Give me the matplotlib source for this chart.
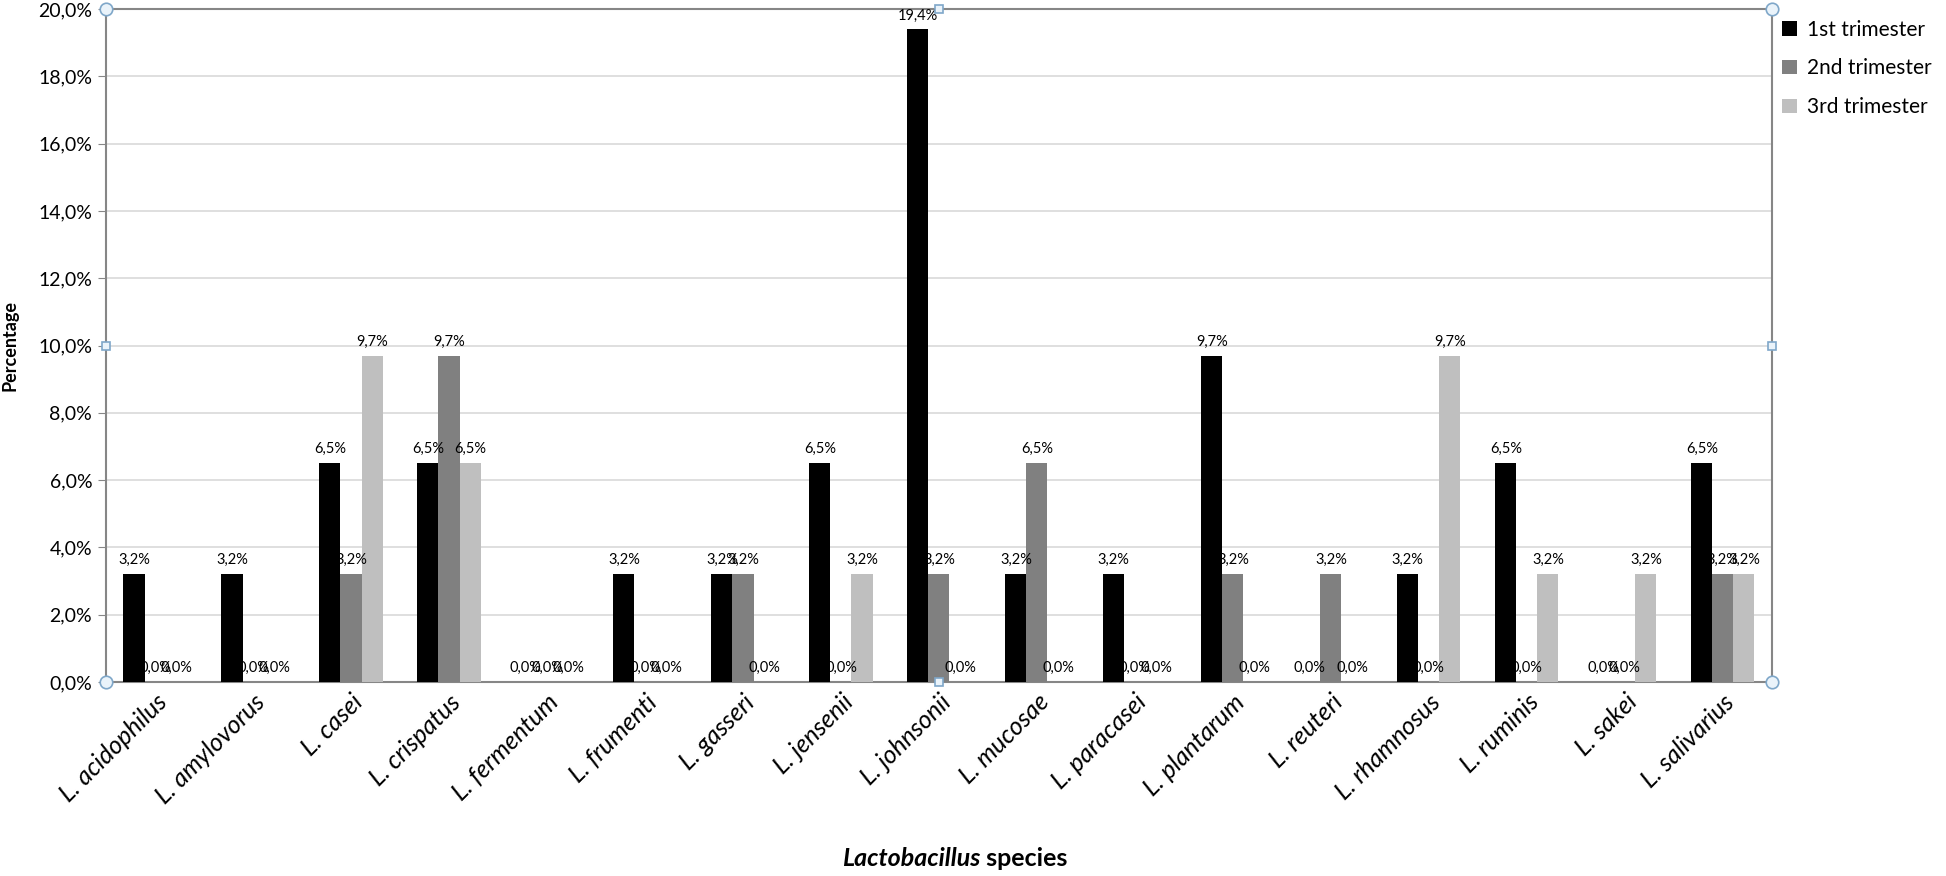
import numpy as np
import matplotlib.pyplot as plt
from matplotlib.ticker import FuncFormatter

plt.rcParams["font.family"] = ["Lato", "DejaVu Sans"]

# ---- Data ----------------------------------------------------------------
species = ["L. acidophilus", "L. amylovorus", "L. casei", "L. crispatus",
           "L. fermentum", "L. frumenti", "L. gasseri", "L. jensenii",
           "L. johnsonii", "L. mucosae", "L. paracasei", "L. plantarum",
           "L. reuteri", "L. rhamnosus", "L. ruminis", "L. sakei",
           "L. salivarius"]
first  = [3.2, 3.2, 6.5, 6.5, 0.0, 3.2, 3.2, 6.5, 19.4, 3.2, 3.2, 9.7, 0.0, 3.2, 6.5, 0.0, 6.5]
second = [0.0, 0.0, 3.2, 9.7, 0.0, 0.0, 3.2, 0.0, 3.2, 6.5, 0.0, 3.2, 3.2, 0.0, 0.0, 0.0, 3.2]
third  = [0.0, 0.0, 9.7, 6.5, 0.0, 0.0, 0.0, 3.2, 0.0, 0.0, 0.0, 0.0, 0.0, 9.7, 3.2, 3.2, 3.2]
series_names = ["1st trimester", "2nd trimester", "3rd trimester"]
colors = ["#000000", "#808080", "#BFBFBF"]

# ---- Figure setup --------------------------------------------------------
fig = plt.figure(figsize=(19.46, 8.76), dpi=100)
ax = fig.add_axes([0.0545, 0.2215, 0.856, 0.768])

x = np.arange(len(species))
width = 0.215
offsets = [-width, 0, width]

for vals, name, col, off in zip([first, second, third], series_names, colors, offsets):
    bars = ax.bar(x + off, vals, width, color=col, label=name, zorder=3)
    for b, v in zip(bars, vals):
        ax.annotate(f"{v:.1f}%".replace(".", ","),
                    (b.get_x() + b.get_width() / 2, v),
                    xytext=(0, 5), textcoords="offset points",
                    ha="center", va="bottom", fontsize=10.5, zorder=4)

# ---- Cosmetics -----------------------------------------------------------
ax.set_xlim(-0.5, len(species) - 0.5)
ax.set_ylim(0, 20)
ax.set_yticks(np.arange(0, 20.1, 2))
ax.yaxis.set_major_formatter(FuncFormatter(lambda v, p: f"{v:.1f}%".replace(".", ",")))
ax.tick_params(axis="y", labelsize=14, length=6, color="#868686", pad=4)
ax.tick_params(axis="x", length=0, pad=6)
ax.set_xticks(x)
ax.set_xticklabels(species, rotation=45, ha="right", rotation_mode="anchor",
                   fontsize=18, style="italic")
ax.grid(True, axis="y", color="#D9D9D9", linewidth=1.2, zorder=0)
for s in ax.spines.values():
    s.set_color("#868686")
    s.set_linewidth(1.5)

ax.set_ylabel("Percentage", fontsize=13, fontweight="bold", labelpad=14)

t1 = fig.text(0.468, 0.02, "Lactobacillus", fontsize=18, fontweight="bold",
              style="italic", ha="center", va="center")
ax.annotate(" species", xy=(1, 0), xycoords=t1, va="bottom", ha="left",
            fontsize=18, fontweight="bold")

leg = ax.legend(loc="upper left", bbox_to_anchor=(1.0, 1.0), frameon=False,
                fontsize=15, handlelength=0.7, handleheight=0.7,
                handletextpad=0.5, labelspacing=0.9, borderaxespad=0.1)

# Excel selection handles on the plot area
hx = [0, 0.5, 1, 0, 1, 0, 0.5, 1]
hy = [0, 0, 0, 0.5, 0.5, 1, 1, 1]
circ = [True, False, True, False, False, True, False, True]
for px, py, c in zip(hx, hy, circ):
    ax.plot(px, py, marker="o" if c else "s", markersize=9 if c else 6,
            markerfacecolor="#EAF3FA", markeredgecolor="#7FA7C9",
            markeredgewidth=1.2, transform=ax.transAxes, clip_on=False, zorder=5)

plt.savefig("out.png", dpi=100)
